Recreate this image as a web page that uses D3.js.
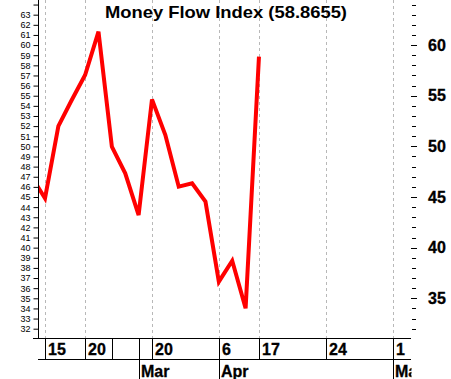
<!DOCTYPE html>
<html><head><meta charset="utf-8">
<script src="https://cdn.jsdelivr.net/npm/d3@7"></script>
<style>
html,body{margin:0;padding:0;background:#fff;}
svg{display:block;font-family:"Liberation Sans",Arial,sans-serif;}
</style></head>
<body>
<svg id="c" width="451" height="379"></svg>
<script>
// ---- data ----
const title = "Money Flow Index (58.8655)";
const startIndex = -1;
const mfiValues = [47.0, 44.87, 52.0, 54.58, 57.04, 61.32, 49.97, 47.34, 43.22, 54.64, 51.12, 46.02, 46.35, 44.54, 36.64, 38.71, 34.01, 58.8655];
const dayTickIndex = [0, 3, 5, 7, 8, 13, 16, 21, 26];
const dayTickLabels = ["15", "20", "", "", "20", "6", "17", "24", "1"];
const monthTickIndex = [7, 13, 26];
const monthTickLabels = ["Mar", "Apr", "May"];
const gridIndex = [0, 3, 8, 13, 16, 21, 26];
const leftTickValues = d3.range(32, 64);      // 32..63 labelled
const rightMajorTicks = [35, 40, 45, 50, 55, 60];
const minorTicks = d3.range(32, 65);

// ---- layout ----
const plotL = 38, plotR = 411, plotT = 0, plotB = 338;
const svg = d3.select("#c");
const x = d3.scaleLinear().domain([0, 26]).range([45, 392.7]);
const y = d3.scaleLinear().domain([31.13, 64.45]).range([337.5, 0]);

svg.append("defs").append("clipPath").attr("id", "plotclip")
  .append("rect").attr("x", plotL).attr("y", plotT).attr("width", plotR - plotL).attr("height", plotB - plotT);
svg.select("defs").append("clipPath").attr("id", "axclip")
  .append("rect").attr("x", 0).attr("y", 0).attr("width", plotR + 0.5).attr("height", 379);

// gridlines
svg.append("g").selectAll("line").data(gridIndex).join("line")
  .attr("x1", d => Math.round(x(d)) + 0.5).attr("x2", d => Math.round(x(d)) + 0.5)
  .attr("y1", plotT).attr("y2", plotB)
  .attr("stroke", "#b8b8b8").attr("stroke-width", 1).attr("stroke-dasharray", "3,3");

// title
svg.append("text").attr("x", 105).attr("y", 18)
  .attr("font-size", 17).attr("font-weight", "bold").attr("fill", "#000")
  .attr("textLength", 242).attr("lengthAdjust", "spacingAndGlyphs").text(title);

// line
const line = d3.line().x((d, i) => x(i + startIndex)).y(d => y(d));
svg.append("path").datum(mfiValues).attr("clip-path", "url(#plotclip)")
  .attr("d", line).attr("fill", "none").attr("stroke", "#ff0000")
  .attr("stroke-width", 4).attr("stroke-linejoin", "miter");

// left axis
const leftAxis = d3.axisLeft(y).tickValues(minorTicks).tickSize(5)
  .tickFormat(d => leftTickValues.includes(d) ? d : "");
const gl = svg.append("g").attr("transform", `translate(${plotL + 0.5},0)`).call(leftAxis);
gl.select(".domain").attr("d", `M0,${plotT}V${plotB}`).attr("stroke", "#000");
gl.selectAll(".tick line").attr("stroke", "#000");
gl.selectAll(".tick text").attr("font-size", 9).attr("font-family", "Liberation Sans, Arial, sans-serif")
  .attr("x", -8).attr("fill", "#000");

// right axis ticks
const gr = svg.append("g");
gr.selectAll("line").data(minorTicks).join("line")
  .attr("x1", d => rightMajorTicks.includes(d) ? 411 : 412)
  .attr("x2", d => rightMajorTicks.includes(d) ? 417 : 416)
  .attr("y1", d => Math.round(y(d)) + 0.5).attr("y2", d => Math.round(y(d)) + 0.5)
  .attr("stroke", "#000");
gr.selectAll("text").data(rightMajorTicks).join("text")
  .attr("x", 428).attr("y", d => y(d)).attr("dy", "0.36em")
  .attr("font-size", 16).attr("font-weight", "bold").attr("fill", "#000")
  .attr("stroke", "#000").attr("stroke-width", 0.3).text(d => d);

// bottom axis
const gb = svg.append("g").attr("clip-path", "url(#axclip)");
gb.append("line").attr("x1", plotL - 5).attr("x2", plotR).attr("y1", plotB + 0.5).attr("y2", plotB + 0.5).attr("stroke", "#000");
gb.append("line").attr("x1", plotL).attr("x2", plotR).attr("y1", 359.5).attr("y2", 359.5).attr("stroke", "#000");
gb.selectAll(".dsep").data(dayTickIndex).join("line").attr("class", "dsep")
  .attr("x1", d => Math.round(x(d)) + 0.5).attr("x2", d => Math.round(x(d)) + 0.5)
  .attr("y1", plotB).attr("y2", d => monthTickIndex.includes(d) ? 379 : 359.5)
  .attr("stroke", "#000");
gb.selectAll(".dlab").data(dayTickIndex).join("text").attr("class", "dlab")
  .attr("x", d => Math.round(x(d)) + 3).attr("y", 355)
  .attr("font-size", 16).attr("font-weight", "bold").attr("fill", "#000")
  .attr("stroke", "#000").attr("stroke-width", 0.3)
  .text((d, i) => dayTickLabels[i]);
gb.selectAll(".mlab").data(monthTickIndex).join("text").attr("class", "mlab")
  .attr("x", d => Math.round(x(d)) + 2).attr("y", 377)
  .attr("font-size", 16).attr("font-weight", "bold").attr("fill", "#000")
  .attr("stroke", "#000").attr("stroke-width", 0.3)
  .text((d, i) => monthTickLabels[i]);
</script>
</body></html>
